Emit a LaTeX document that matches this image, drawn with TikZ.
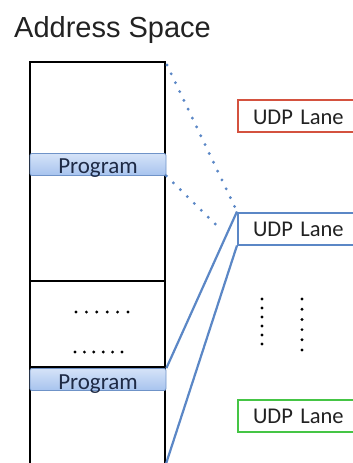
\documentclass[tikz,border=0pt]{standalone}
\usepackage{fontspec}
\setmainfont{Carlito}
\newfontfamily\titlefont{Liberation Sans}
\definecolor{progline}{HTML}{6F93C8}
\definecolor{progtop}{HTML}{D5E3F8}
\definecolor{progbot}{HTML}{A7C3EE}
\definecolor{progtext}{HTML}{1E2A45}
\definecolor{linkblue}{HTML}{5B87C6}
\definecolor{lanered}{HTML}{D4523F}
\definecolor{laneblue}{HTML}{5B87C6}
\definecolor{lanegreen}{HTML}{45C545}
\definecolor{lanetext}{HTML}{222222}
\begin{document}
\begin{tikzpicture}[x=1pt,y=1pt,
  mem/.style={line width=2.4pt, draw=black},
  prog/.style={draw=progline, line width=0.8pt, rounded corners=2pt, top color=progtop, bottom color=progbot, minimum width=136pt, minimum height=22pt, inner sep=0pt, text height=18pt, text depth=0pt, text=progtext, font=\fontsize{23}{24}\selectfont},
  lane/.style={anchor=west, line width=2pt, fill=white, text width=108pt, inner xsep=15pt, inner ysep=0pt, minimum height=32pt, align=left, text height=16.5pt, text depth=0pt, font=\fontsize{22.5}{24}\selectfont, text=lanetext},
  dotline/.style={draw=linkblue, line width=3.2pt, line cap=round, dash pattern=on 0pt off 9.8pt},
  link/.style={draw=linkblue, line width=2.2pt},
  dot/.style={fill=black}]
\useasboundingbox (0,0) rectangle (353,-463);
\fill[white] (0,0) rectangle (353,-463);

\node[anchor=base west, inner sep=0pt, font=\titlefont\fontsize{29}{32}\selectfont, text=lanetext] (title) at (14,-37) {Address Space};

% memory column
\coordinate (mtl) at (30,-62);
\coordinate (mtr) at (165,-62);
\coordinate (mbl) at (30,-475);
\coordinate (mbr) at (165,-475);
\coordinate (mstart) at (167,-65);
\coordinate (lbot) at (164,-470);
\draw[mem] (mbl) -- (mtl) -- (mtr) -- (mbr);
\coordinate (h1l) at (30,-281);
\coordinate (h1r) at (165,-281);
\coordinate (h2l) at (30,-367);
\coordinate (h2r) at (165,-367);
\draw[mem] (h1l) -- (h1r);
\draw[mem] (h2l) -- (h2r);

% lanes
\node[lane, draw=lanered] (lane1) at (237,-116) {UDP Lane};
\node[lane, draw=laneblue] (lane2) at (237,-228.5) {UDP Lane};
\node[lane, draw=lanegreen] (lane3) at (237,-415.5) {UDP Lane};

% programs
\node[prog] (p1) at (98,-164.5) {Program};
\node[prog, text height=20pt] (p2) at (98,-379.5) {Program};

% connectors
\draw[dotline] (mstart) -- (lane2.north west);
\draw[dotline, shorten >=24pt] (p1.south east) -- (lane2.south west);
\draw[link] (p2.north east) -- (lane2.north west);
\draw[link] (lane2.south west) -- (lbot);

% ellipsis dots
\foreach \i in {0,...,5} {
  \fill[dot] ({76+10.4*\i},-312) circle (1.6);
  \fill[dot] ({75+9.4*\i},-352) circle (1.6);
  \fill[dot] (262,{-299-9*\i}) circle (1.6);
  \fill[dot] (302,{-299-10.2*\i}) circle (1.6);
}
\end{tikzpicture}
\end{document}
